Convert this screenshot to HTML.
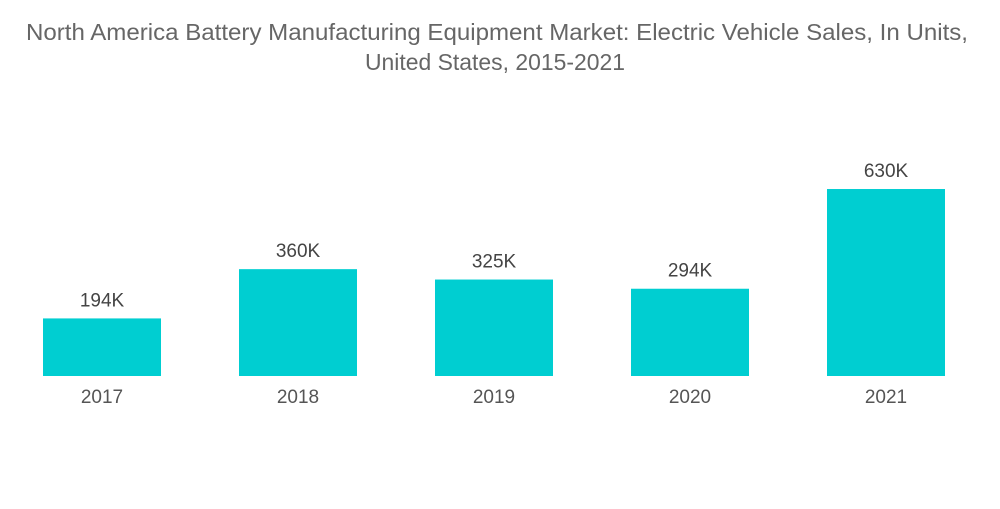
<!DOCTYPE html>
<html><head><meta charset="utf-8"><style>
body{margin:0;background:#fff;}
svg text{font-family:"Liberation Sans",sans-serif;}
</style></head><body>
<svg id="chart" width="1000" height="504" xmlns="http://www.w3.org/2000/svg">
<text x="497" y="40" text-anchor="middle" font-size="23" fill="#666" textLength="942" lengthAdjust="spacingAndGlyphs">North America Battery Manufacturing Equipment Market: Electric Vehicle Sales, In Units,</text>
<text x="495" y="70" text-anchor="middle" font-size="23" fill="#666" textLength="260" lengthAdjust="spacingAndGlyphs">United States, 2015-2021</text>
<g id="bars"></g>
</svg>
<script>
const categories=["2017","2018","2019","2020","2021"];
const values=[194,360,325,294,630];
const valueLabels=["194K","360K","325K","294K","630K"];
const baseY=376, pxPerK=0.2968, x0=43, step=196, bw=118;
function xPos(i){return x0+i*step;}
function yPos(v){return baseY-v*pxPerK;}
const g=document.getElementById('bars');
const ns="http://www.w3.org/2000/svg";
categories.forEach((c,i)=>{
  const r=document.createElementNS(ns,'rect');
  
  
  r.setAttribute('x',xPos(i));r.setAttribute('y',yPos(values[i]));
  r.setAttribute('width',bw);r.setAttribute('height',baseY-yPos(values[i]));
  r.setAttribute('fill','#00ced1');g.appendChild(r);
  const t=document.createElementNS(ns,'text');
  
  
  t.setAttribute('x',xPos(i)+bw/2);t.setAttribute('y',yPos(values[i])-12);
  t.setAttribute('text-anchor','middle');t.setAttribute('font-size','19');t.setAttribute('fill','#444');
  t.textContent=valueLabels[i];g.appendChild(t);
  const a=document.createElementNS(ns,'text');
  
  
  a.setAttribute('x',xPos(i)+bw/2);a.setAttribute('y',403);
  a.setAttribute('text-anchor','middle');a.setAttribute('font-size','19');a.setAttribute('fill','#555');
  a.textContent=c;g.appendChild(a);
});
</script>
</body></html>
